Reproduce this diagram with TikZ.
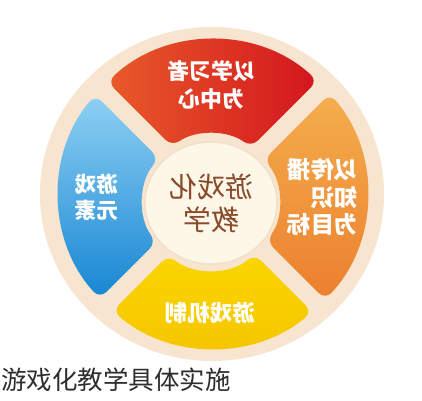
\documentclass[tikz,border=0pt]{standalone}
\usepackage{fontspec}
\newfontfamily\cjk{Noto Sans CJK SC}
\definecolor{ringc}{HTML}{F7E5CF}
\definecolor{redA}{HTML}{E85A2A}
\definecolor{redB}{HTML}{D3161D}
\definecolor{orA}{HTML}{F4AE4E}
\definecolor{orB}{HTML}{EC7F2E}
\definecolor{yeA}{HTML}{FAD600}
\definecolor{yeB}{HTML}{F5C400}
\definecolor{blA}{HTML}{8ED0F3}
\definecolor{blB}{HTML}{1786D3}
\definecolor{cream}{HTML}{FDF7E8}
\definecolor{creamedge}{HTML}{F3E0CA}
\definecolor{brownt}{HTML}{8A4A2C}
\definecolor{capc}{HTML}{2E2E2E}
% geometry (pt, y up)
\def\Dx{212}\def\Dy{201}
\def\Ox{213}\def\Oy{206}\def\RR{154}
\def\Ix{211}\def\Iy{198}\def\rr{68}
\def\hh{9}
\newcommand\edgeang[6]{%
  \pgfmathsetmacro\tmpwx{\Dx-(#3)*\hh*sin(#2)-(#4)}%
  \pgfmathsetmacro\tmpwy{\Dy+(#3)*\hh*cos(#2)-(#5)}%
  \pgfmathsetmacro\tmpb{\tmpwx*cos(#2)+\tmpwy*sin(#2)}%
  \pgfmathsetmacro\tmpq{\tmpwx*\tmpwx+\tmpwy*\tmpwy-\tmpb*\tmpb}%
  \pgfmathsetmacro\tmpt{-\tmpb+(#6)*sqrt(1-\tmpq/(#6)/(#6))}%
  \pgfmathsetmacro\tmppx{\tmpwx+\tmpt*cos(#2)}%
  \pgfmathsetmacro\tmppy{\tmpwy+\tmpt*sin(#2)}%
  \pgfmathsetmacro#1{atan2(\tmppy,\tmppx)}%
}
\newcommand\drawsector[3]{%
  \edgeang\angOS{#1}{1}{\Ox}{\Oy}{\RR}%
  \edgeang\angOE{#2}{-1}{\Ox}{\Oy}{\RR}%
  \edgeang\angIS{#1}{1}{\Ix}{\Iy}{\rr}%
  \edgeang\angIE{#2}{-1}{\Ix}{\Iy}{\rr}%
  \pgfmathsetmacro\angOE{\angOE<\angOS ? \angOE+360 : \angOE}%
  \pgfmathsetmacro\angIE{\angIE<\angIS ? \angIE+360 : \angIE}%
  \path[#3, rounded corners=9pt] ([shift={(\Ox,\Oy)}]\angOS:\RR)
    arc[start angle=\angOS, end angle=\angOE, radius=\RR]
    -- ([shift={(\Ix,\Iy)}]\angIE:\rr)
    arc[start angle=\angIE, end angle=\angIS, radius=\rr] -- cycle;
}
\tikzset{
  wtxt/.style={text=white, font=\cjk\bfseries\fontsize{22}{28}\selectfont, inner sep=0pt, xscale=-1},
  ctxt/.style={text=brownt, font=\cjk\fontsize{28}{33}\selectfont, inner sep=0pt, xscale=-1, align=center},
}
\begin{document}
\begin{tikzpicture}[x=1pt,y=1pt]
\useasboundingbox (0,0) rectangle (422,400);
\fill[white] (0,0) rectangle (422,400);
% outer beige ring
\fill[ringc] (212,206) ellipse[x radius=172, y radius=167];
% sectors
\drawsector{45}{135}{left color=redA, right color=redB}
\drawsector{-45}{45}{top color=orA, bottom color=orB}
\drawsector{225}{315}{top color=yeA, bottom color=yeB}
\drawsector{135}{225}{top color=blA, bottom color=blB}
% center disc
\fill[cream, draw=creamedge, line width=1.5pt] (\Ix,197) ellipse[x radius=66, y radius=61];
% texts (mirrored as printed)
\node[wtxt, align=center] (ttop) at (211,315) {以学习者\\为中心};
\node[wtxt, align=left, font=\cjk\bfseries\fontsize{23.5}{27.5}\selectfont] (tright) at (322.5,202.5) {以传播\\知识\\为目标};
\node[wtxt, align=center, font=\cjk\bfseries\fontsize{21.5}{26}\selectfont] (tleft) at (96.5,202.5) {游戏\\元素};
\node[wtxt, font=\cjk\bfseries\fontsize{22.5}{26}\selectfont] (tbottom) at (210,87.5) {游戏机制};
\node[ctxt] (tcenter) at (211,196.5) {游戏化\\教学};
% caption
\node[anchor=west, inner sep=0pt, text=capc, font=\cjk\fontsize{25.5}{26}\selectfont] (cap) at (1,20) {游戏化教学具体实施};
\end{tikzpicture}
\end{document}
